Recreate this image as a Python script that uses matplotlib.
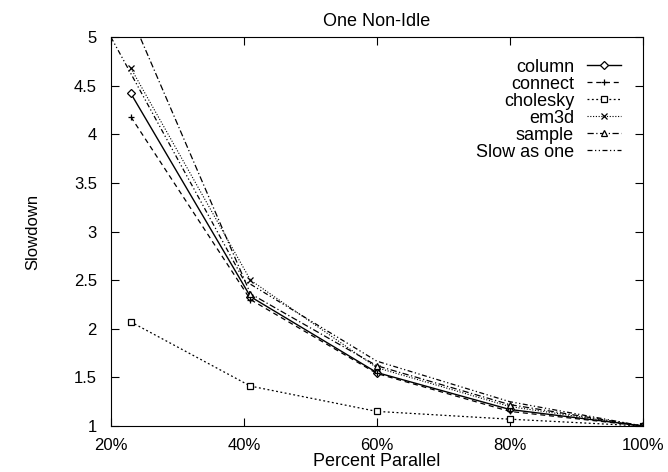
import matplotlib
matplotlib.use('Agg')
import matplotlib.pyplot as plt

plt.rcParams['font.family'] = ['Liberation Sans', 'DejaVu Sans']

# percent parallel (x) and slowdown per benchmark
pct = [23, 41, 60, 80, 100]
column = [4.42, 2.33, 1.55, 1.17, 1.0]
connect = [4.18, 2.30, 1.54, 1.15, 1.0]
cholesky = [2.07, 1.41, 1.15, 1.07, 1.0]
em3d = [4.68, 2.50, 1.60, 1.20, 1.0]
sample = [5.22, 2.36, 1.62, 1.22, 1.0]
slow_pct = [20, 40, 60, 80, 100]
slow_as_one = [5.0, 2.5, 1.667, 1.25, 1.0]

fig = plt.figure(figsize=(6.68, 4.72), dpi=100)
ax = fig.add_axes([0.166, 0.0975, 0.796, 0.824])

mk = dict(color='black', markerfacecolor='white', markeredgecolor='black',
          markersize=5, markeredgewidth=0.9)
ax.plot(pct, column, '-', marker='D', lw=1.0, label='column', **{**mk, 'markersize': 4})
ax.plot(pct, connect, marker='+', ls=(0, (4, 3)), lw=0.9, label='connect', **mk)
ax.plot(pct, cholesky, marker='s', ls=(0, (1.5, 2)), lw=0.9, label='cholesky', **mk)
ax.plot(pct, em3d, marker='x', ls=(0, (1, 1.5)), lw=0.8, label='em3d', **mk)
ax.plot(pct, sample, marker='^', ls=(0, (5, 2, 1, 2)), lw=0.9, label='sample', **mk)
ax.plot(slow_pct, slow_as_one, color='black', ls=(0, (4, 2, 1, 2, 1, 2)), lw=0.9,
        label='Slow as one')

ax.set_xlim(20, 100)
ax.set_ylim(1, 5)
ax.set_xticks([20, 40, 60, 80, 100])
ax.set_xticklabels(['20%', '40%', '60%', '80%', '100%'])
ax.set_yticks([1, 1.5, 2, 2.5, 3, 3.5, 4, 4.5, 5])
ax.set_yticklabels(['1', '1.5', '2', '2.5', '3', '3.5', '4', '4.5', '5'])
ax.tick_params(direction='in', top=True, right=True, length=6, labelsize=12, pad=10)
ax.tick_params(axis='x', pad=9)

ax.set_title('One Non-Idle', fontsize=13, pad=8)
ax.set_xlabel('Percent Parallel', fontsize=13, labelpad=0)
ax.set_ylabel('Slowdown', fontsize=12, labelpad=24)

ax.legend(loc='upper right', frameon=False, markerfirst=False, fontsize=13,
          handlelength=1.9, labelspacing=0.0, borderaxespad=0.8, handletextpad=0.7)

fig.savefig('out.png', dpi=100)
